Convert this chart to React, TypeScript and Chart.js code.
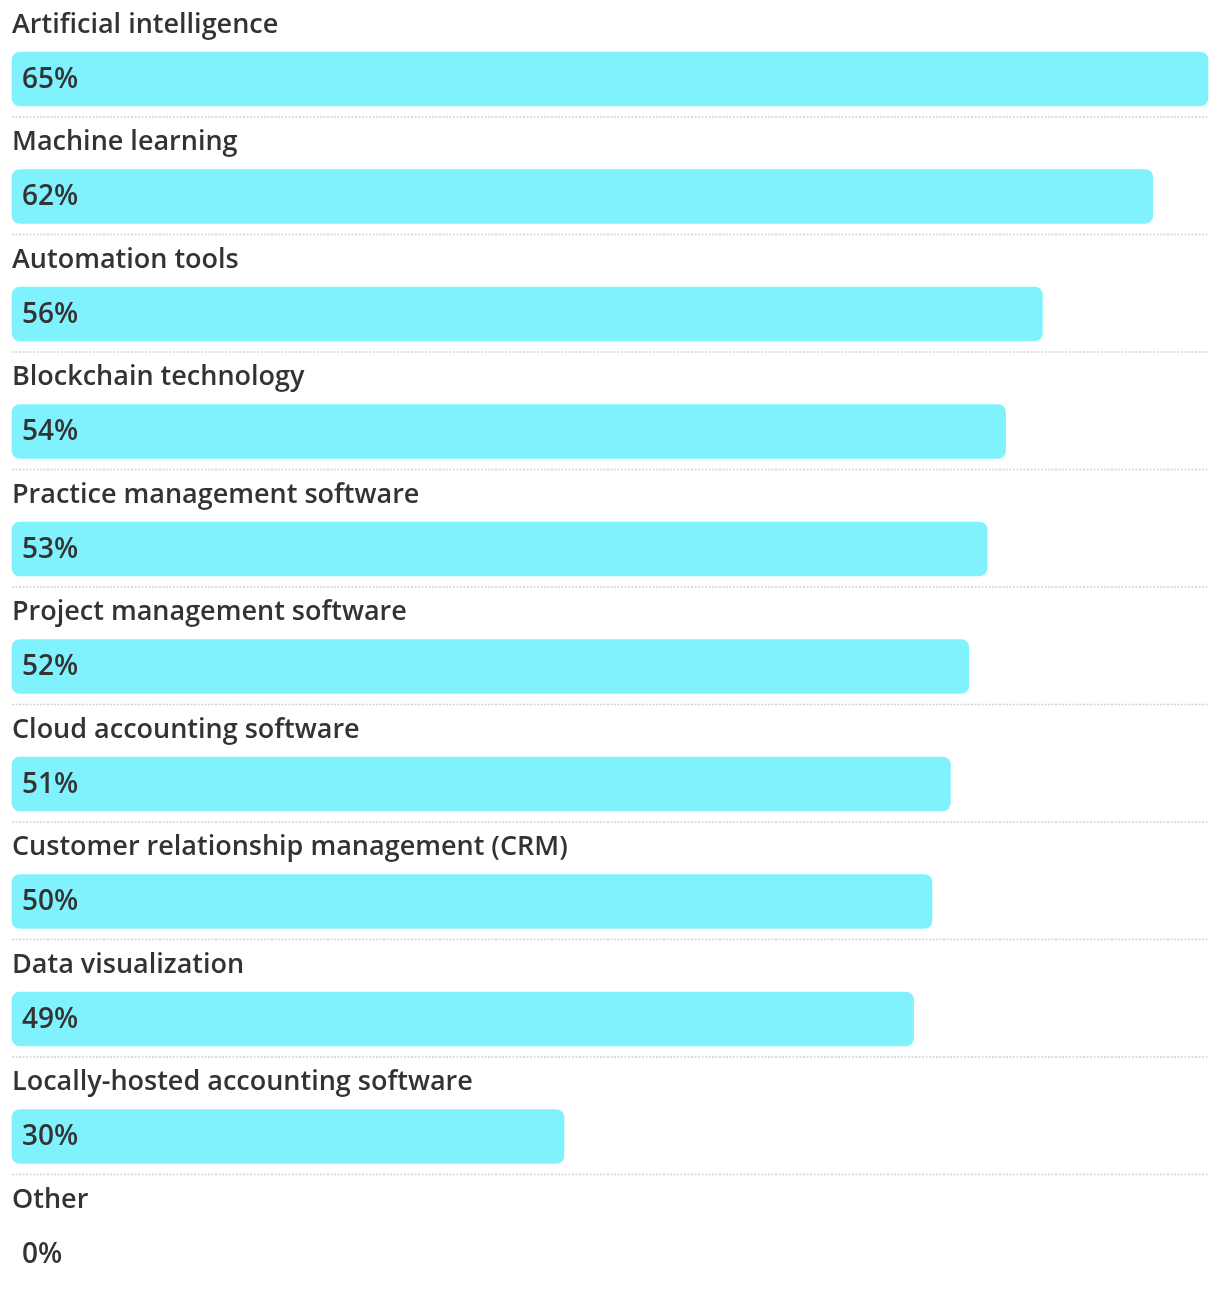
import React, { useEffect, useRef } from "react";
import { Chart, registerables } from "chart.js";

Chart.register(...registerables);

const categories = [
  "Artificial intelligence",
  "Machine learning",
  "Automation tools",
  "Blockchain technology",
  "Practice management software",
  "Project management software",
  "Cloud accounting software",
  "Customer relationship management (CRM)",
  "Data visualization",
  "Locally-hosted accounting software",
  "Other",
];

const values = [65, 62, 56, 54, 53, 52, 51, 50, 49, 30, 0];

const valueLabels = values.map((v) => `${v}%`);

const FONT = "'Open Sans', sans-serif";

const labelPlugin = {
  id: "rowLabels",
  afterDatasetsDraw(chart: any) {
    const { ctx, chartArea, scales } = chart;
    const yScale = scales.y;
    const meta = chart.getDatasetMeta(0);
    ctx.save();
    ctx.strokeStyle = "#d2d2d2";
    ctx.lineWidth = 1.5;
    ctx.setLineDash([2, 1.5]);
    for (let i = 0; i < categories.length - 1; i++) {
      const yc = yScale.getPixelForValue(i);
      const y = yc + 38;
      ctx.beginPath();
      ctx.moveTo(chartArea.left, y);
      ctx.lineTo(chartArea.right, y);
      ctx.stroke();
    }
    ctx.setLineDash([]);
    ctx.fillStyle = "#333333";
    ctx.textBaseline = "middle";
    ctx.textAlign = "left";
    for (let i = 0; i < categories.length; i++) {
      const yc = yScale.getPixelForValue(i);
      ctx.font = `600 27px ${FONT}`;
      ctx.fillText(categories[i], chartArea.left, yc - 54);
      const bar = meta.data[i];
      ctx.font = `600 28px ${FONT}`;
      ctx.fillText(valueLabels[i], chartArea.left + 10, (bar ? bar.y : yc) + 1);
    }
    ctx.restore();
  },
};

export default function App() {
  const ref = useRef<HTMLCanvasElement | null>(null);
  useEffect(() => {
    document.body.style.margin = "0";
    if (!ref.current) return;
    const chart = new Chart(ref.current, {
      type: "bar",
      data: {
        labels: categories,
        datasets: [
          {
            data: values,
            backgroundColor: values.map((v) => (v > 0 ? "#80F2FD" : "rgba(0,0,0,0)")),
            borderWidth: 0,
            borderRadius: 8,
            borderSkipped: false,
            barThickness: 54,
            clip: false,
          } as any,
        ],
      },
      options: {
        indexAxis: "y",
        animation: false,
        responsive: false,
        maintainAspectRatio: false,
        layout: { padding: { left: 12, right: 12, top: 79, bottom: 38 } },
        plugins: {
          legend: { display: false },
          tooltip: { enabled: false },
          title: { display: false },
        },
        scales: {
          x: { display: false, min: 0, max: 65 },
          y: { display: false, offset: false, grid: { display: false } },
        },
      },
      plugins: [labelPlugin],
    });
    return () => chart.destroy();
  }, []);
  return (
    <div style={{ width: 1220, height: 1292, background: "#fff" }}>
      <canvas ref={ref} width={1220} height={1292} style={{ display: "block" }} />
    </div>
  );
}
